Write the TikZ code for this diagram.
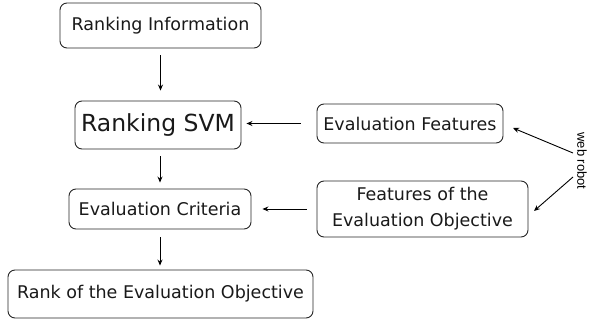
\documentclass[tikz,border=0pt]{standalone}
\usepackage{fontspec}
\setmainfont{DejaVu Sans}
\newfontfamily\robotfont{Liberation Sans}
\usetikzlibrary{arrows.meta}
\begin{document}
\begin{tikzpicture}[x=1pt,y=-1pt,
  box/.style={draw=black!85,line width=0.9pt,rounded corners=7pt,inner sep=0pt,
    font=\fontsize{17.5}{26}\selectfont,text=black!90,align=center},
  arr/.style={line width=0.9pt,-{Stealth[length=6pt,width=5pt]}}]
\useasboundingbox (0,0) rectangle (589,320);
\node[box,minimum width=201pt,minimum height=45pt] (ri) at (160.5,25.5) {Ranking Information};
\node[box,minimum width=166pt,minimum height=48pt,font=\fontsize{23.5}{28}\selectfont] (svm) at (158,125) {Ranking SVM};
\node[box,minimum width=182pt,minimum height=40pt] (ec) at (160,209) {Evaluation Criteria};
\node[box,minimum width=305pt,minimum height=48pt] (rank) at (160.5,294) {Rank of the Evaluation Objective};
\node[box,minimum width=186pt,minimum height=39pt] (ef) at (410,123.5) {Evaluation Features};
\node[box,minimum width=211pt,minimum height=56pt] (feo) at (422.5,209) {Features of the\\Evaluation Objective};
\node[font=\robotfont\fontsize{13}{15}\selectfont,rotate=-90,inner sep=0pt] (robot) at (582,161) {web robot};
\coordinate (r1) at (573,153);
\coordinate (r1e) at (513,128);
\coordinate (r2) at (573,177);
\coordinate (r2e) at (534,211);
\draw[arr,shorten <=7pt,shorten >=10pt] (ri.south) -- (ri.south |- svm.north);
\draw[arr,shorten <=7pt,shorten >=6pt] (svm.south -| ec.north) -- (ec.north);
\draw[arr,shorten <=8pt,shorten >=4pt] (ec.south) -- (ec.south |- rank.north);
\draw[arr,shorten <=16pt,shorten >=5pt] (ef.west) -- (ef.west -| svm.east);
\draw[arr,shorten <=10pt,shorten >=11pt] (feo.west) -- (feo.west -| ec.east);
\draw[arr] (r1) -- (r1e);
\draw[arr] (r2) -- (r2e);
\end{tikzpicture}
\end{document}
